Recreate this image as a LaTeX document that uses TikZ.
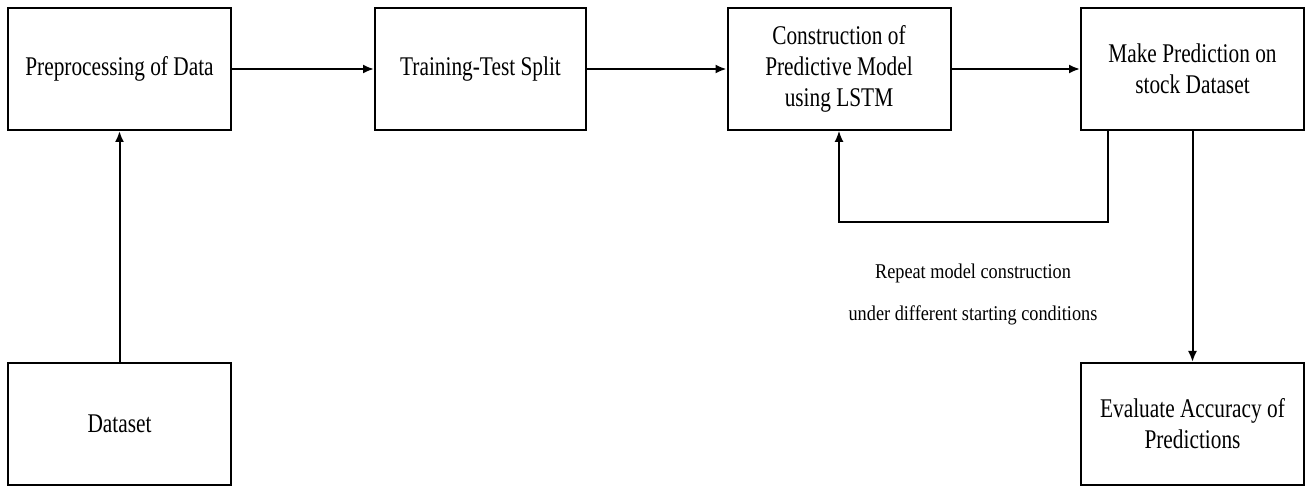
\documentclass[tikz,border=0pt]{standalone}
\usepackage{fontspec}
\setmainfont{Liberation Serif}[FakeStretch=0.79]
\newfontfamily\notefont{Liberation Serif}[FakeStretch=0.87]
\usetikzlibrary{arrows.meta,positioning}

\begin{document}
\begin{tikzpicture}[-{Latex[length=11pt,width=9pt]},x=1pt,y=-1pt]
  \tikzstyle{every node}=[font=\fontsize{27}{31}\selectfont]
  \tikzstyle{block}=[rectangle,draw,line width=2pt,minimum width=223pt,minimum height=122pt,align=center,inner sep=0pt]
  \tikzstyle{link}=[draw,line width=2pt]

  \useasboundingbox (0,0) rectangle (1310,486);

  \node[block]                   (prep)  at (119.5,69)  {Preprocessing of Data};
  \node[block,minimum width=211pt] (split) at (480.5,69) {Training-Test Split};
  \node[block]                   (model) at (839,69)    {Construction of\\Predictive Model\\using LSTM};
  \node[block]                   (pred)  at (1192.5,69) {Make Prediction on\\stock Dataset};
  \node[block]                   (data)  at (119.5,424) {Dataset};
  \node[block]                   (eval)  at (1192.5,424) {Evaluate Accuracy of\\Predictions};
  \node[font=\notefont\fontsize{21}{42}\selectfont,align=center] (note) at (973,294)
       {Repeat model construction\\under different starting conditions};

  \coordinate (loopstart) at ([xshift=-84.5pt]pred.south);
  \coordinate (loopturn)  at (839,222);

  \draw[link] (prep.east)  -- (split.west);
  \draw[link] (split.east) -- (model.west);
  \draw[link] (model.east) -- (pred.west);
  \draw[link] (data.north) -- (prep.south);
  \draw[link] (pred.south) -- (eval.north);
  % repeat loop back to the model
  \draw[line width=1.2pt] (loopstart) |- (loopturn) -- (model.south);
\end{tikzpicture}
\end{document}
